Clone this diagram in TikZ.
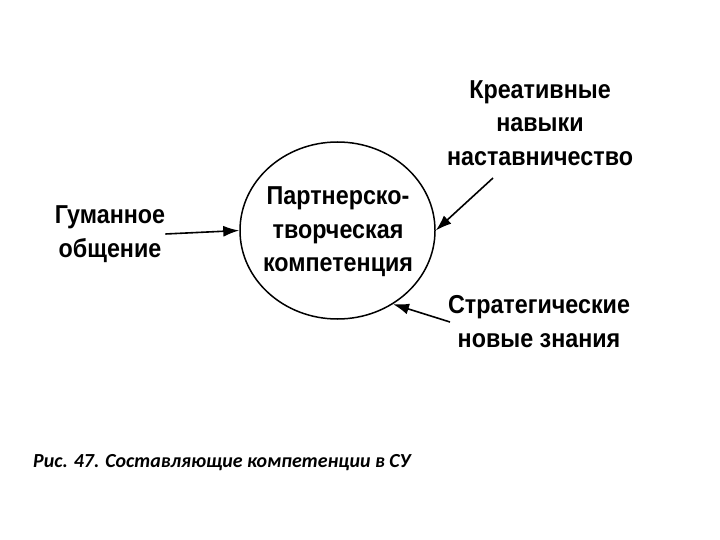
\documentclass[tikz,border=0pt]{standalone}
\usepackage{fontspec}
\setmainfont{Liberation Sans}
\newfontfamily\lblfont[FakeStretch=0.9]{Liberation Sans}
\newfontfamily\capfont{Carlito}
\usetikzlibrary{shapes.geometric,arrows.meta}

\tikzset{
  lbl/.style={align=center, inner sep=0pt, font=\lblfont\fontsize{26}{33.5}\selectfont\bfseries},
  arr/.style={line width=1.6bp, -{Latex[length=16bp,width=11bp]}}
}

\begin{document}
\begin{tikzpicture}[x=1bp, y=-1bp]
  \useasboundingbox (0,0) rectangle (720,540);
  % central competence
  \node[ellipse, draw, line width=1.5bp, inner sep=0pt, minimum width=195bp,
        minimum height=177bp] (comp) at (337.5,230.5) {};
  \node[lbl] (comptxt) at (338,232) {Партнерско-\\творческая\\компетенция};
  % components
  \node[lbl] (hum) at (110,234) {Гуманное\\общение};
  \node[lbl] (cre) at (540,123) {Креативные\\навыки\\наставничество};
  \node[lbl] (str) at (539,321.5) {Стратегические\\новые знания};
  \coordinate (creend) at (493,178);
  \coordinate (strend) at (450,322);
  % arrows
  \draw[arr] (hum.east) -- (comp.west);
  \draw[arr] (creend) -- (comp.east);
  \draw[arr] (strend) -- (comp.-53);
  % caption
  \node[anchor=west, inner sep=0pt, font=\capfont\bfseries\itshape\fontsize{20}{24}\selectfont]
    (cap) at (33,463) {Рис. 47. Составляющие компетенции в СУ};
\end{tikzpicture}
\end{document}
